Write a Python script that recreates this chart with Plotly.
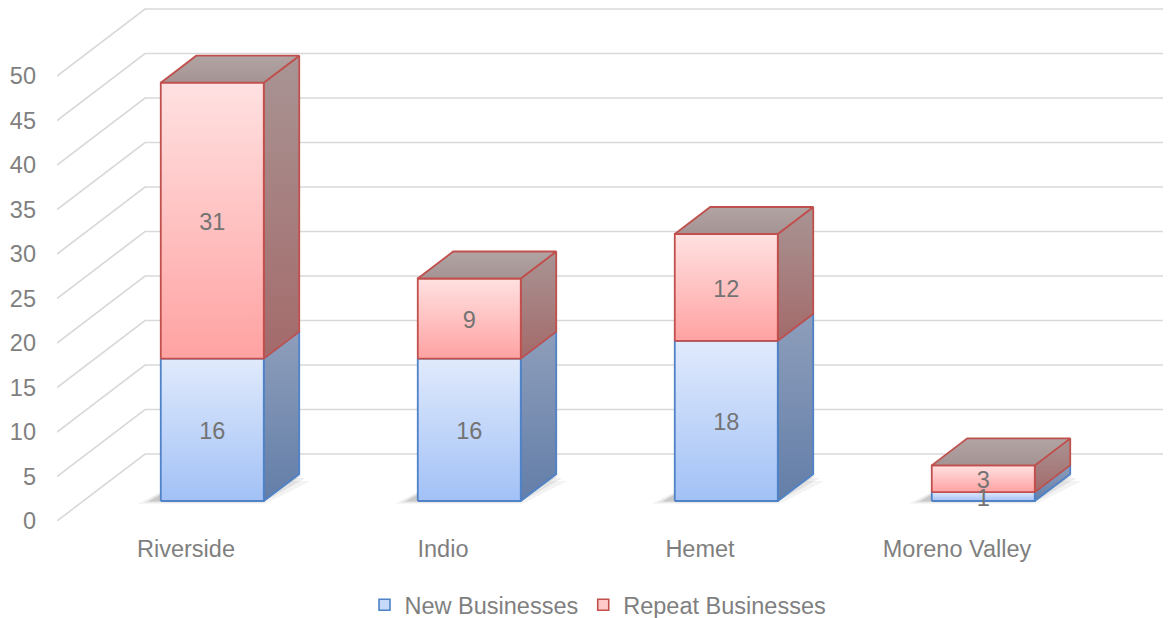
import plotly.graph_objects as go

# ---------------- data ----------------
categories = ["Riverside", "Indio", "Hemet", "Moreno Valley"]
new_businesses = [16, 16, 18, 1]
repeat_businesses = [31, 9, 12, 3]
series_names = ["New Businesses", "Repeat Businesses"]
y_ticks = [0, 5, 10, 15, 20, 25, 30, 35, 40, 45, 50]

# ---------------- geometry / style ----------------
# the page body adds an 8px offset, so the figure is laid out 8px smaller
W, H = 1163, 610
ML, MR, MT, MB = 49, 0, 0, 97
PX_X = 257.0          # pixels per category unit
PX_Y = 8.9            # pixels per value unit
X0_PX = 178.0         # figure pixel of first category (front plane)
x_min = (ML - X0_PX) / PX_X
x_max = (W - MR - X0_PX) / PX_X
y_max = (H - MT - MB) / PX_Y

DXU = 88.0 / PX_X     # depth shift of back wall (x units)
DYU = 67.0 / PX_Y     # depth shift of back wall (y units)
T_F = 20.0 / 67.0     # bar front depth
T_B = 47.0 / 67.0     # bar back depth
HW = 51.5 / PX_X      # bar half width
LABEL_DY = 3.5 / PX_Y # small downward nudge of data labels

FONT = "Arial, Liberation Sans, sans-serif"
FS = 23.5
GRAY_TXT = "#7f7f7f"
LABEL_TXT = "#737373"
GRID = "#d9d9d9"

styles = [
    dict(front=("#a2c1f6", "#e0eafc"), side=("#637ea8", "#8e9ebb"),
         top=("#a7b3c8", "#b5bfd2"), edge="#4f82c6", legend_fill="#c6d9f8"),
    dict(front=("#ffa2a2", "#ffe1e1"), side=("#a46a6a", "#a99494"),
         top=("#a59393", "#b2a4a4"), edge="#c0504d", legend_fill="#ffc9c9"),
]

fig = go.Figure()

# gridlines in perspective (left wall diagonal + back wall horizontal)
for v in y_ticks:
    fig.add_trace(go.Scatter(
        x=[x_min, x_min + DXU, x_max],
        y=[v, v + DYU, v + DYU],
        mode="lines", line=dict(color=GRID, width=1.7),
        hoverinfo="skip", showlegend=False))


def poly(xs, ys, grad, edge, width=1.8):
    fig.add_trace(go.Scatter(
        x=xs + [xs[0]], y=ys + [ys[0]], mode="lines", fill="toself",
        fillgradient=dict(type="vertical",
                          colorscale=[[0, grad[0]], [1, grad[1]]]),
        line=dict(color=edge, width=width),
        hoverinfo="skip", showlegend=False))


def shadow(xs, ys, color):
    fig.add_trace(go.Scatter(
        x=xs + [xs[0]], y=ys + [ys[0]], mode="lines", fill="toself",
        fillcolor=color, line=dict(width=0),
        hoverinfo="skip", showlegend=False))


label_x, label_y, label_t = [], [], []

for i, cat in enumerate(categories):
    vals = [new_businesses[i], repeat_businesses[i]]
    xl = i - HW + T_F * DXU
    xr = i + HW + T_F * DXU
    fy = T_F * DYU
    d = T_B - T_F
    # soft floor shadow
    for grow, alpha in [(14, 0.06), (8, 0.09), (3, 0.14)]:
        gx = grow / PX_X
        gy = grow / PX_Y * 0.2
        sx = [xl - gx - 0.035, xr + gx * 0.5 - 0.02,
              xr + d * DXU + gx * 0.8, xl + d * DXU - gx]
        sy = [fy - gy, fy - gy, fy + d * DYU - gy * 2.5, fy + d * DYU - gy * 2.5]
        shadow(sx, sy, f"rgba(50,50,50,{alpha})")
    base = 0.0
    for s in range(2):
        st = styles[s]
        y0 = base + fy
        y1 = base + vals[s] + fy
        # side face
        poly([xr, xr + d * DXU, xr + d * DXU, xr],
             [y0, y0 + d * DYU, y1 + d * DYU, y1], st["side"], st["edge"])
        # front face
        poly([xl, xr, xr, xl], [y0, y0, y1, y1], st["front"], st["edge"])
        # top face for the top segment
        if s == 1:
            poly([xl, xr, xr + d * DXU, xl + d * DXU],
                 [y1, y1, y1 + d * DYU, y1 + d * DYU], st["top"], st["edge"])
        label_x.append(i + T_F * DXU)
        label_y.append((y0 + y1) / 2 - LABEL_DY)
        label_t.append(str(vals[s]))
        base += vals[s]

# data labels
fig.add_trace(go.Scatter(
    x=label_x, y=label_y, text=label_t, mode="text",
    textfont=dict(family=FONT, size=FS, color=LABEL_TXT),
    hoverinfo="skip", showlegend=False, cliponaxis=False))

# legend entries
for s, name in enumerate(series_names):
    fig.add_trace(go.Scatter(
        x=[None], y=[None], mode="markers", name=name,
        marker=dict(symbol="square", size=11, color=styles[s]["legend_fill"],
                    line=dict(color=styles[s]["edge"], width=1.6))))

fig.update_layout(
    width=W, height=H,
    margin=dict(l=ML, r=MR, t=MT, b=MB, pad=0, autoexpand=False),
    paper_bgcolor="white", plot_bgcolor="white",
    font=dict(family=FONT, size=FS, color=GRAY_TXT),
    xaxis=dict(range=[x_min, x_max], tickvals=list(range(len(categories))),
               ticktext=categories, showgrid=False, zeroline=False,
               showline=False, ticks="", ticklabelstandoff=11,
               automargin=False,
               tickfont=dict(family=FONT, size=FS, color=GRAY_TXT),
               fixedrange=True),
    yaxis=dict(range=[0, y_max], tickvals=y_ticks, showgrid=False,
               zeroline=False, showline=False, ticks="",
               ticklabelstandoff=20, automargin=False,
               tickfont=dict(family=FONT, size=FS, color=GRAY_TXT),
               fixedrange=True),
    legend=dict(orientation="h", xref="paper",
                x=(590 - ML) / (W - ML - MR), xanchor="center",
                yref="container", y=(H - 597) / H, yanchor="middle",
                font=dict(family=FONT, size=FS, color=GRAY_TXT),
                itemwidth=30, traceorder="normal",
                bgcolor="rgba(0,0,0,0)"),
    showlegend=True,
)

fig.write_html("out.html")
